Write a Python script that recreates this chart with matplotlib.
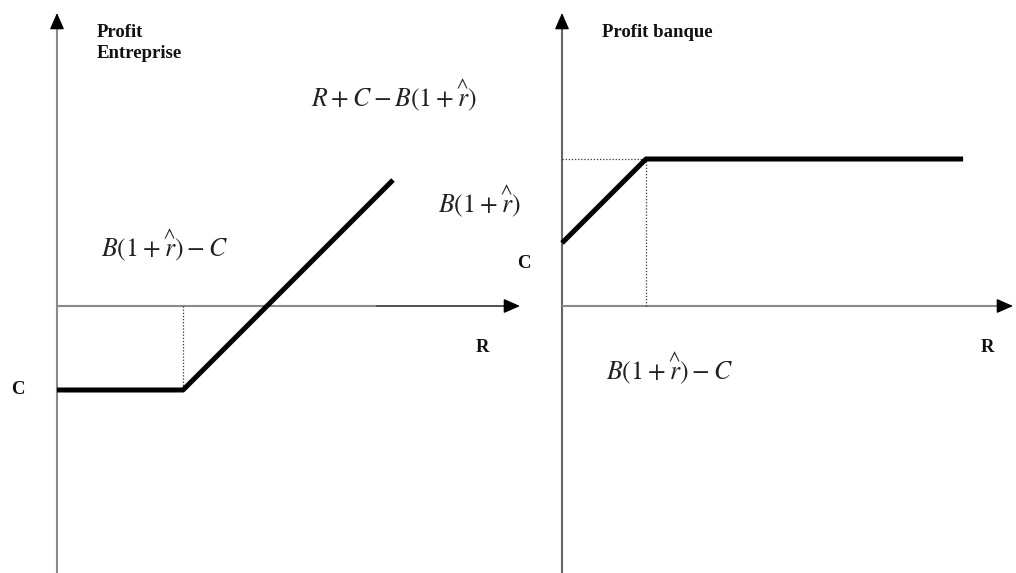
import matplotlib
matplotlib.use('Agg')
import matplotlib.pyplot as plt

plt.rcParams['mathtext.fontset'] = 'stix'
plt.rcParams['font.family'] = ['Liberation Serif', 'DejaVu Serif']

# profit de l'entreprise en fonction de R (unites arbitraires)
firm_R = [0, 3, 8]
firm_profit = [-2, -2, 3]
firm_kink = (3, -2)

# profit de la banque en fonction de R
bank_R = [0, 2, 9.55]
bank_profit = [1.5, 3.5, 3.5]
bank_kink = (2, 3.5)

W, H = 1016, 573
U = 42.0          # pixels par unite
Y0 = 306          # ligne de l'axe R (pixels depuis le haut)

fig = plt.figure(figsize=(W / 100, H / 100), dpi=100)


def make_ax(px_left, px_right, origin_x):
    ax = fig.add_axes([px_left / W, 0, (px_right - px_left) / W, 1])
    ax.set_xlim((px_left - origin_x) / U, (px_right - origin_x) / U)
    ax.set_ylim((Y0 - H) / U, Y0 / U)
    ax.axis('off')
    return ax


def draw_axes(ax, x_tip, y_tip, xcol='#8a8a8a', ycol='#8a8a8a', dark_from=None):
    ybot = ax.get_ylim()[0]
    ax.plot([0, 0], [ybot, y_tip - 0.25], color=ycol, lw=1.5, solid_capstyle='butt', zorder=1)
    ax.annotate('', xy=(0, y_tip), xytext=(0, y_tip - 0.3),
                arrowprops=dict(arrowstyle='-|>,head_length=0.5,head_width=0.22',
                                color='black', lw=1.0, mutation_scale=20, shrinkA=0, shrinkB=0))
    if dark_from is None:
        ax.plot([0, x_tip - 0.25], [0, 0], color=xcol, lw=1.5, solid_capstyle='butt', zorder=1)
    else:
        ax.plot([0, dark_from], [0, 0], color=xcol, lw=1.5, solid_capstyle='butt', zorder=1)
        ax.plot([dark_from, x_tip - 0.25], [0, 0], color='#333333', lw=1.2, solid_capstyle='butt', zorder=1)
    ax.annotate('', xy=(x_tip, 0), xytext=(x_tip - 0.3, 0),
                arrowprops=dict(arrowstyle='-|>,head_length=0.5,head_width=0.22',
                                color='black', lw=1.0, mutation_scale=20, shrinkA=0, shrinkB=0))


lab = dict(fontsize=13.5, fontweight='bold', color='#111111')
fml = dict(fontsize=18.5, color='#222222')

# ---- panneau gauche : profit entreprise
ax1 = make_ax(0, 540, 57)
draw_axes(ax1, (520 - 57) / U, (Y0 - 13) / U, dark_from=7.6)
ax1.plot(firm_R, firm_profit, color='black', lw=3.6, solid_capstyle='butt', zorder=3)
ax1.plot([firm_kink[0], firm_kink[0]], [0, firm_kink[1]], color='#333333', lw=0.9, ls=(0, (1, 1.5)), zorder=2)

ax1.text(0.95, 6.52, 'Profit', ha='left', va='center', **lab)
ax1.text(0.95, 6.0, 'Entreprise', ha='left', va='center', **lab)
ax1.text(6.05, 4.76, r'$R+C-B(1+\overset{\wedge}{r})$', ha='left', va='baseline', **fml)
ax1.text(9.07, 2.24, r'$B(1+\overset{\wedge}{r})$', ha='left', va='baseline', **fml)
ax1.text(1.05, 1.17, r'$B(1+\overset{\wedge}{r})-C$', ha='left', va='baseline', **fml)
ax1.text(10.12, -1.0, 'R', ha='center', va='center', **lab)
ax1.text(-0.93, -2.0, 'C', ha='center', va='center', **lab)

# ---- panneau droit : profit banque
ax2 = make_ax(540, 1016, 562)
draw_axes(ax2, (1013 - 562) / U, (Y0 - 13) / U, ycol='#666666')
ax2.plot(bank_R, bank_profit, color='black', lw=3.6, solid_capstyle='butt', zorder=3)
ax2.plot([0, bank_kink[0]], [bank_kink[1], bank_kink[1]], color='#333333', lw=0.9, ls=(0, (1, 1.5)), zorder=2)
ax2.plot([bank_kink[0], bank_kink[0]], [0, bank_kink[1]], color='#333333', lw=0.9, ls=(0, (1, 1.5)), zorder=2)

ax2.text(0.95, 6.52, 'Profit banque', ha='left', va='center', **lab)
ax2.text(-0.9, 1.02, 'C', ha='center', va='center', **lab)
ax2.text(10.12, -1.0, 'R', ha='center', va='center', **lab)
ax2.text(1.05, -1.74, r'$B(1+\overset{\wedge}{r})-C$', ha='left', va='baseline', **fml)

fig.savefig('out.png', dpi=100)
